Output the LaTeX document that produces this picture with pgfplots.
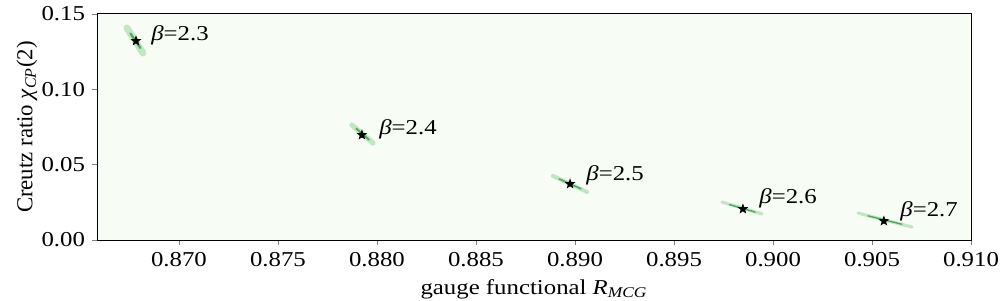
\documentclass[border=0pt]{standalone}
\usepackage{fontspec}
\setmainfont{Liberation Serif}[FakeStretch=1.17]
\newfontfamily\yfont{Liberation Serif}
\usepackage{pgfplots}
\pgfplotsset{compat=1.18}
\definecolor{bg}{HTML}{F7FCF5}
\definecolor{gmid}{HTML}{74C476}
\definecolor{gdark}{HTML}{238B45}
\pgfdeclareplotmark{fstar}{%
  \pgfpathmoveto{\pgfpointpolar{90}{\pgfplotmarksize}}%
  \pgfpathlineto{\pgfpointpolar{126}{0.42\pgfplotmarksize}}%
  \pgfpathlineto{\pgfpointpolar{162}{\pgfplotmarksize}}%
  \pgfpathlineto{\pgfpointpolar{198}{0.42\pgfplotmarksize}}%
  \pgfpathlineto{\pgfpointpolar{234}{\pgfplotmarksize}}%
  \pgfpathlineto{\pgfpointpolar{270}{0.42\pgfplotmarksize}}%
  \pgfpathlineto{\pgfpointpolar{306}{\pgfplotmarksize}}%
  \pgfpathlineto{\pgfpointpolar{342}{0.42\pgfplotmarksize}}%
  \pgfpathlineto{\pgfpointpolar{18}{\pgfplotmarksize}}%
  \pgfpathlineto{\pgfpointpolar{54}{0.42\pgfplotmarksize}}%
  \pgfpathclose\pgfusepathqfillstroke}
\newcommand{\fs}{\fontsize{10.6}{12.5}\selectfont}
\begin{document}
\begin{tikzpicture}
\begin{axis}[
  scale only axis, width=437pt, height=113pt,
  xmin=0.86586, xmax=0.910, ymin=0, ymax=0.15,
  xtick={0.870,0.875,0.880,0.885,0.890,0.895,0.900,0.905,0.910},
  ytick={0,0.05,0.10,0.15},
  scaled x ticks=false, scaled y ticks=false,
  /pgf/number format/assume math mode=true,
  x tick label style={/pgf/number format/.cd, fixed, fixed zerofill, precision=3},
  y tick label style={/pgf/number format/.cd, fixed, fixed zerofill, precision=2},
  tick label style={font=\fs},
  every axis x label/.style={font=\fs, at={(axis description cs:0.5,0)}, anchor=base, yshift=-27pt},
  every axis y label/.style={font=\yfont\fontsize{11.4}{13}\selectfont, at={(axis description cs:-0.0801,0.5)}, rotate=90, anchor=center},
  tick align=outside, xtick pos=left, ytick pos=left,
  major tick length=2.5pt,
  axis line style={line width=0.5pt},
  axis background/.style={fill=bg},
  xlabel={gauge functional {\itshape R}\textsubscript{\itshape MCG}},
  ylabel={Creutz ratio {\itshape χ}\textsubscript{\itshape CP}(2)},
]
% clouds (outer haze)
\addplot[gmid, opacity=0.4, line width=3.4pt, line cap=round] coordinates {(0.867374,0.1407) (0.868182,0.1241)};
\addplot[gmid, opacity=0.4, line width=2.6pt, line cap=round] coordinates {(0.878737,0.0763) (0.879798,0.0644)};
\addplot[gmid, opacity=0.4, line width=2.0pt, line cap=round] coordinates {(0.888889,0.0425) (0.890606,0.0319)};
\addplot[gmid, opacity=0.4, line width=1.6pt, line cap=round] coordinates {(0.897424,0.0252) (0.899444,0.0173)};
\addplot[gmid, opacity=0.4, line width=1.6pt, line cap=round] coordinates {(0.904293,0.0179) (0.907020,0.0086)};
% clouds (cores)
\addplot[gdark, opacity=0.7, line width=1.1pt, line cap=round] coordinates {(0.867550,0.1370) (0.868050,0.1275)};
\addplot[gdark, opacity=0.7, line width=0.9pt, line cap=round] coordinates {(0.878950,0.0740) (0.879600,0.0665)};
\addplot[gdark, opacity=0.7, line width=0.8pt, line cap=round] coordinates {(0.889200,0.0405) (0.890300,0.0340)};
\addplot[gdark, opacity=0.7, line width=0.7pt, line cap=round] coordinates {(0.897800,0.0235) (0.899100,0.0185)};
\addplot[gdark, opacity=0.7, line width=0.7pt, line cap=round] coordinates {(0.904800,0.0160) (0.906500,0.0105)};
% stars
\addplot[only marks, mark=fstar, mark size=2.2pt, black] coordinates {
  (0.86783,0.1321) (0.87924,0.0697) (0.88975,0.0372) (0.89848,0.0206) (0.90560,0.0126)};
% labels
\node[anchor=west, inner sep=0pt, font=\fs] at (axis cs:0.868586,0.1361) {{\itshape β}=2.3};
\node[anchor=west, inner sep=0pt, font=\fs] at (axis cs:0.880101,0.0737) {{\itshape β}=2.4};
\node[anchor=west, inner sep=0pt, font=\fs] at (axis cs:0.890556,0.0431) {{\itshape β}=2.5};
\node[anchor=west, inner sep=0pt, font=\fs] at (axis cs:0.899293,0.0279) {{\itshape β}=2.6};
\node[anchor=west, inner sep=0pt, font=\fs] at (axis cs:0.906414,0.0192) {{\itshape β}=2.7};
\end{axis}
\pgfresetboundingbox
\path[use as bounding box] ([shift={(-48.5pt,-30pt)}]current axis.south west) rectangle ([shift={(14.5pt,7pt)}]current axis.north east);
\end{tikzpicture}
\end{document}
